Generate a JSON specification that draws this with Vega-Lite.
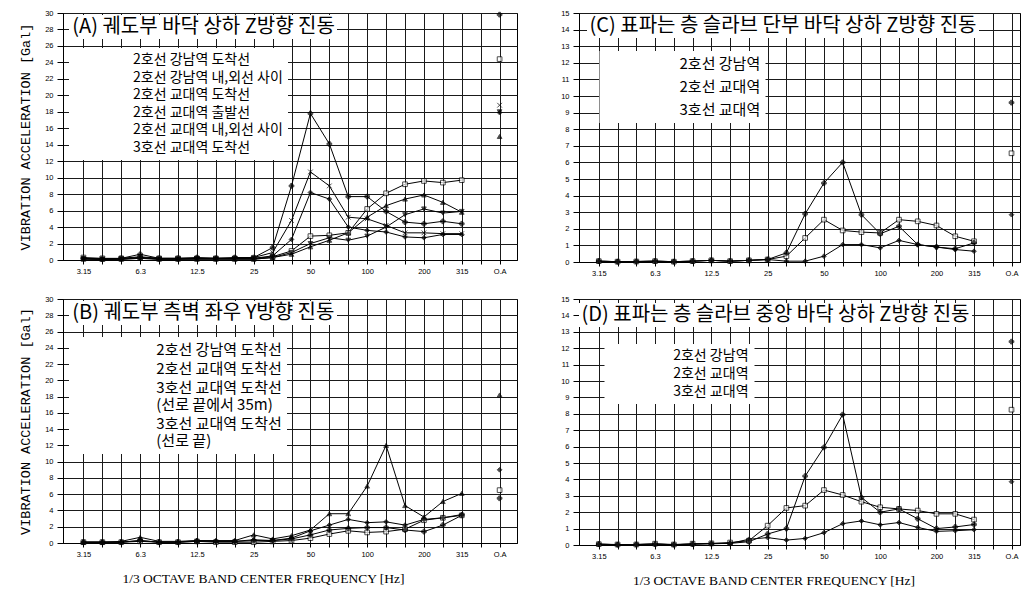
{
  "$schema": "https://vega.github.io/schema/vega-lite/v6.json",
  "padding": {"left": 17, "top": 8, "right": 0, "bottom": 0},
  "background": "white",
  "bounds": "flush",
  "columns": 2,
  "spacing": {"row": 37, "column": 62},
  "resolve": {"scale": {"shape": "independent", "fill": "independent", "color": "independent", "x": "independent", "y": "independent"}, "legend": {"shape": "independent", "fill": "independent", "color": "independent"}},
  "datasets": {
    "A": [
      {"series":"2호선 강남역 도착선","band":"3.15","value":0.3},{"series":"2호선 강남역 도착선","band":"4","value":0.2},{"series":"2호선 강남역 도착선","band":"5","value":0.2},{"series":"2호선 강남역 도착선","band":"6.3","value":0.3},{"series":"2호선 강남역 도착선","band":"8","value":0.2},{"series":"2호선 강남역 도착선","band":"10","value":0.2},{"series":"2호선 강남역 도착선","band":"12.5","value":0.2},{"series":"2호선 강남역 도착선","band":"16","value":0.2},{"series":"2호선 강남역 도착선","band":"20","value":0.2},{"series":"2호선 강남역 도착선","band":"25","value":0.2},{"series":"2호선 강남역 도착선","band":"31.5","value":0.4},{"series":"2호선 강남역 도착선","band":"40","value":1.1},{"series":"2호선 강남역 도착선","band":"50","value":2.9},{"series":"2호선 강남역 도착선","band":"63","value":3.0},{"series":"2호선 강남역 도착선","band":"80","value":3.3},{"series":"2호선 강남역 도착선","band":"100","value":6.2},{"series":"2호선 강남역 도착선","band":"125","value":8.1},{"series":"2호선 강남역 도착선","band":"160","value":9.2},{"series":"2호선 강남역 도착선","band":"200","value":9.6},{"series":"2호선 강남역 도착선","band":"250","value":9.4},{"series":"2호선 강남역 도착선","band":"315","value":9.7},{"series":"2호선 강남역 도착선","band":"O.A","value":24.4},
      {"series":"2호선 강남역 내,외선 사이","band":"3.15","value":0.2},{"series":"2호선 강남역 내,외선 사이","band":"4","value":0.1},{"series":"2호선 강남역 내,외선 사이","band":"5","value":0.2},{"series":"2호선 강남역 내,외선 사이","band":"6.3","value":0.7},{"series":"2호선 강남역 내,외선 사이","band":"8","value":0.2},{"series":"2호선 강남역 내,외선 사이","band":"10","value":0.2},{"series":"2호선 강남역 내,외선 사이","band":"12.5","value":0.3},{"series":"2호선 강남역 내,외선 사이","band":"16","value":0.2},{"series":"2호선 강남역 내,외선 사이","band":"20","value":0.3},{"series":"2호선 강남역 내,외선 사이","band":"25","value":0.3},{"series":"2호선 강남역 내,외선 사이","band":"31.5","value":1.5},{"series":"2호선 강남역 내,외선 사이","band":"40","value":9.0},{"series":"2호선 강남역 내,외선 사이","band":"50","value":17.8},{"series":"2호선 강남역 내,외선 사이","band":"63","value":14.1},{"series":"2호선 강남역 내,외선 사이","band":"80","value":7.7},{"series":"2호선 강남역 내,외선 사이","band":"100","value":7.7},{"series":"2호선 강남역 내,외선 사이","band":"125","value":5.9},{"series":"2호선 강남역 내,외선 사이","band":"160","value":4.6},{"series":"2호선 강남역 내,외선 사이","band":"200","value":4.4},{"series":"2호선 강남역 내,외선 사이","band":"250","value":4.7},{"series":"2호선 강남역 내,외선 사이","band":"315","value":4.4},{"series":"2호선 강남역 내,외선 사이","band":"O.A","value":29.8},
      {"series":"2호선 교대역 도착선","band":"3.15","value":0.2},{"series":"2호선 교대역 도착선","band":"4","value":0.1},{"series":"2호선 교대역 도착선","band":"5","value":0.1},{"series":"2호선 교대역 도착선","band":"6.3","value":0.3},{"series":"2호선 교대역 도착선","band":"8","value":0.1},{"series":"2호선 교대역 도착선","band":"10","value":0.1},{"series":"2호선 교대역 도착선","band":"12.5","value":0.2},{"series":"2호선 교대역 도착선","band":"16","value":0.2},{"series":"2호선 교대역 도착선","band":"20","value":0.2},{"series":"2호선 교대역 도착선","band":"25","value":0.2},{"series":"2호선 교대역 도착선","band":"31.5","value":0.5},{"series":"2호선 교대역 도착선","band":"40","value":2.5},{"series":"2호선 교대역 도착선","band":"50","value":8.2},{"series":"2호선 교대역 도착선","band":"63","value":7.4},{"series":"2호선 교대역 도착선","band":"80","value":4.0},{"series":"2호선 교대역 도착선","band":"100","value":3.6},{"series":"2호선 교대역 도착선","band":"125","value":3.4},{"series":"2호선 교대역 도착선","band":"160","value":2.8},{"series":"2호선 교대역 도착선","band":"200","value":2.7},{"series":"2호선 교대역 도착선","band":"250","value":3.1},{"series":"2호선 교대역 도착선","band":"315","value":3.1},{"series":"2호선 교대역 도착선","band":"O.A","value":17.9},
      {"series":"2호선 교대역 출발선","band":"3.15","value":0.1},{"series":"2호선 교대역 출발선","band":"4","value":0.1},{"series":"2호선 교대역 출발선","band":"5","value":0.1},{"series":"2호선 교대역 출발선","band":"6.3","value":0.2},{"series":"2호선 교대역 출발선","band":"8","value":0.1},{"series":"2호선 교대역 출발선","band":"10","value":0.1},{"series":"2호선 교대역 출발선","band":"12.5","value":0.1},{"series":"2호선 교대역 출발선","band":"16","value":0.1},{"series":"2호선 교대역 출발선","band":"20","value":0.1},{"series":"2호선 교대역 출발선","band":"25","value":0.1},{"series":"2호선 교대역 출발선","band":"31.5","value":0.3},{"series":"2호선 교대역 출발선","band":"40","value":0.7},{"series":"2호선 교대역 출발선","band":"50","value":1.6},{"series":"2호선 교대역 출발선","band":"63","value":2.4},{"series":"2호선 교대역 출발선","band":"80","value":3.3},{"series":"2호선 교대역 출발선","band":"100","value":5.2},{"series":"2호선 교대역 출발선","band":"125","value":6.6},{"series":"2호선 교대역 출발선","band":"160","value":7.4},{"series":"2호선 교대역 출발선","band":"200","value":7.9},{"series":"2호선 교대역 출발선","band":"250","value":7.0},{"series":"2호선 교대역 출발선","band":"315","value":5.8},{"series":"2호선 교대역 출발선","band":"O.A","value":15.0},
      {"series":"2호선 교대역 내,외선 사이","band":"3.15","value":0.2},{"series":"2호선 교대역 내,외선 사이","band":"4","value":0.1},{"series":"2호선 교대역 내,외선 사이","band":"5","value":0.2},{"series":"2호선 교대역 내,외선 사이","band":"6.3","value":0.4},{"series":"2호선 교대역 내,외선 사이","band":"8","value":0.2},{"series":"2호선 교대역 내,외선 사이","band":"10","value":0.2},{"series":"2호선 교대역 내,외선 사이","band":"12.5","value":0.2},{"series":"2호선 교대역 내,외선 사이","band":"16","value":0.2},{"series":"2호선 교대역 내,외선 사이","band":"20","value":0.2},{"series":"2호선 교대역 내,외선 사이","band":"25","value":0.3},{"series":"2호선 교대역 내,외선 사이","band":"31.5","value":0.9},{"series":"2호선 교대역 내,외선 사이","band":"40","value":4.8},{"series":"2호선 교대역 내,외선 사이","band":"50","value":10.7},{"series":"2호선 교대역 내,외선 사이","band":"63","value":9.0},{"series":"2호선 교대역 내,외선 사이","band":"80","value":5.2},{"series":"2호선 교대역 내,외선 사이","band":"100","value":5.0},{"series":"2호선 교대역 내,외선 사이","band":"125","value":4.2},{"series":"2호선 교대역 내,외선 사이","band":"160","value":3.3},{"series":"2호선 교대역 내,외선 사이","band":"200","value":3.3},{"series":"2호선 교대역 내,외선 사이","band":"250","value":3.2},{"series":"2호선 교대역 내,외선 사이","band":"315","value":3.2},{"series":"2호선 교대역 내,외선 사이","band":"O.A","value":18.8},
      {"series":"3호선 교대역 도착선","band":"3.15","value":0.1},{"series":"3호선 교대역 도착선","band":"4","value":0.1},{"series":"3호선 교대역 도착선","band":"5","value":0.1},{"series":"3호선 교대역 도착선","band":"6.3","value":0.2},{"series":"3호선 교대역 도착선","band":"8","value":0.1},{"series":"3호선 교대역 도착선","band":"10","value":0.1},{"series":"3호선 교대역 도착선","band":"12.5","value":0.1},{"series":"3호선 교대역 도착선","band":"16","value":0.1},{"series":"3호선 교대역 도착선","band":"20","value":0.1},{"series":"3호선 교대역 도착선","band":"25","value":0.1},{"series":"3호선 교대역 도착선","band":"31.5","value":0.3},{"series":"3호선 교대역 도착선","band":"40","value":0.9},{"series":"3호선 교대역 도착선","band":"50","value":2.0},{"series":"3호선 교대역 도착선","band":"63","value":2.7},{"series":"3호선 교대역 도착선","band":"80","value":2.4},{"series":"3호선 교대역 도착선","band":"100","value":2.9},{"series":"3호선 교대역 도착선","band":"125","value":4.0},{"series":"3호선 교대역 도착선","band":"160","value":5.5},{"series":"3호선 교대역 도착선","band":"200","value":6.2},{"series":"3호선 교대역 도착선","band":"250","value":5.7},{"series":"3호선 교대역 도착선","band":"315","value":5.9},{"series":"3호선 교대역 도착선","band":"O.A","value":18.0}
    ],
    "B": [
      {"series":"2호선 강남역 도착선","band":"3.15","value":0.1},{"series":"2호선 강남역 도착선","band":"4","value":0.1},{"series":"2호선 강남역 도착선","band":"5","value":0.1},{"series":"2호선 강남역 도착선","band":"6.3","value":0.2},{"series":"2호선 강남역 도착선","band":"8","value":0.1},{"series":"2호선 강남역 도착선","band":"10","value":0.1},{"series":"2호선 강남역 도착선","band":"12.5","value":0.2},{"series":"2호선 강남역 도착선","band":"16","value":0.1},{"series":"2호선 강남역 도착선","band":"20","value":0.1},{"series":"2호선 강남역 도착선","band":"25","value":0.1},{"series":"2호선 강남역 도착선","band":"31.5","value":0.2},{"series":"2호선 강남역 도착선","band":"40","value":0.3},{"series":"2호선 강남역 도착선","band":"50","value":0.6},{"series":"2호선 강남역 도착선","band":"63","value":1.1},{"series":"2호선 강남역 도착선","band":"80","value":1.5},{"series":"2호선 강남역 도착선","band":"100","value":1.3},{"series":"2호선 강남역 도착선","band":"125","value":1.4},{"series":"2호선 강남역 도착선","band":"160","value":1.7},{"series":"2호선 강남역 도착선","band":"200","value":2.8},{"series":"2호선 강남역 도착선","band":"250","value":3.1},{"series":"2호선 강남역 도착선","band":"315","value":3.4},{"series":"2호선 강남역 도착선","band":"O.A","value":6.5},
      {"series":"2호선 교대역 도착선","band":"3.15","value":0.1},{"series":"2호선 교대역 도착선","band":"4","value":0.1},{"series":"2호선 교대역 도착선","band":"5","value":0.1},{"series":"2호선 교대역 도착선","band":"6.3","value":0.3},{"series":"2호선 교대역 도착선","band":"8","value":0.1},{"series":"2호선 교대역 도착선","band":"10","value":0.1},{"series":"2호선 교대역 도착선","band":"12.5","value":0.2},{"series":"2호선 교대역 도착선","band":"16","value":0.2},{"series":"2호선 교대역 도착선","band":"20","value":0.2},{"series":"2호선 교대역 도착선","band":"25","value":0.3},{"series":"2호선 교대역 도착선","band":"31.5","value":0.3},{"series":"2호선 교대역 도착선","band":"40","value":0.5},{"series":"2호선 교대역 도착선","band":"50","value":1.0},{"series":"2호선 교대역 도착선","band":"63","value":1.6},{"series":"2호선 교대역 도착선","band":"80","value":1.8},{"series":"2호선 교대역 도착선","band":"100","value":1.9},{"series":"2호선 교대역 도착선","band":"125","value":1.9},{"series":"2호선 교대역 도착선","band":"160","value":1.6},{"series":"2호선 교대역 도착선","band":"200","value":1.4},{"series":"2호선 교대역 도착선","band":"250","value":2.2},{"series":"2호선 교대역 도착선","band":"315","value":3.4},{"series":"2호선 교대역 도착선","band":"O.A","value":5.5},
      {"series":"3호선 교대역 도착선 (선로 끝에서 35m)","band":"3.15","value":0.1},{"series":"3호선 교대역 도착선 (선로 끝에서 35m)","band":"4","value":0.1},{"series":"3호선 교대역 도착선 (선로 끝에서 35m)","band":"5","value":0.1},{"series":"3호선 교대역 도착선 (선로 끝에서 35m)","band":"6.3","value":0.3},{"series":"3호선 교대역 도착선 (선로 끝에서 35m)","band":"8","value":0.1},{"series":"3호선 교대역 도착선 (선로 끝에서 35m)","band":"10","value":0.1},{"series":"3호선 교대역 도착선 (선로 끝에서 35m)","band":"12.5","value":0.3},{"series":"3호선 교대역 도착선 (선로 끝에서 35m)","band":"16","value":0.2},{"series":"3호선 교대역 도착선 (선로 끝에서 35m)","band":"20","value":0.2},{"series":"3호선 교대역 도착선 (선로 끝에서 35m)","band":"25","value":0.4},{"series":"3호선 교대역 도착선 (선로 끝에서 35m)","band":"31.5","value":0.3},{"series":"3호선 교대역 도착선 (선로 끝에서 35m)","band":"40","value":0.6},{"series":"3호선 교대역 도착선 (선로 끝에서 35m)","band":"50","value":1.5},{"series":"3호선 교대역 도착선 (선로 끝에서 35m)","band":"63","value":2.2},{"series":"3호선 교대역 도착선 (선로 끝에서 35m)","band":"80","value":2.9},{"series":"3호선 교대역 도착선 (선로 끝에서 35m)","band":"100","value":2.5},{"series":"3호선 교대역 도착선 (선로 끝에서 35m)","band":"125","value":2.6},{"series":"3호선 교대역 도착선 (선로 끝에서 35m)","band":"160","value":2.2},{"series":"3호선 교대역 도착선 (선로 끝에서 35m)","band":"200","value":2.9},{"series":"3호선 교대역 도착선 (선로 끝에서 35m)","band":"250","value":3.1},{"series":"3호선 교대역 도착선 (선로 끝에서 35m)","band":"315","value":3.5},{"series":"3호선 교대역 도착선 (선로 끝에서 35m)","band":"O.A","value":9.0},
      {"series":"3호선 교대역 도착선 (선로 끝)","band":"3.15","value":0.1},{"series":"3호선 교대역 도착선 (선로 끝)","band":"4","value":0.1},{"series":"3호선 교대역 도착선 (선로 끝)","band":"5","value":0.2},{"series":"3호선 교대역 도착선 (선로 끝)","band":"6.3","value":0.7},{"series":"3호선 교대역 도착선 (선로 끝)","band":"8","value":0.2},{"series":"3호선 교대역 도착선 (선로 끝)","band":"10","value":0.2},{"series":"3호선 교대역 도착선 (선로 끝)","band":"12.5","value":0.3},{"series":"3호선 교대역 도착선 (선로 끝)","band":"16","value":0.3},{"series":"3호선 교대역 도착선 (선로 끝)","band":"20","value":0.3},{"series":"3호선 교대역 도착선 (선로 끝)","band":"25","value":1.0},{"series":"3호선 교대역 도착선 (선로 끝)","band":"31.5","value":0.5},{"series":"3호선 교대역 도착선 (선로 끝)","band":"40","value":0.9},{"series":"3호선 교대역 도착선 (선로 끝)","band":"50","value":1.6},{"series":"3호선 교대역 도착선 (선로 끝)","band":"63","value":3.6},{"series":"3호선 교대역 도착선 (선로 끝)","band":"80","value":3.6},{"series":"3호선 교대역 도착선 (선로 끝)","band":"100","value":7.0},{"series":"3호선 교대역 도착선 (선로 끝)","band":"125","value":12.0},{"series":"3호선 교대역 도착선 (선로 끝)","band":"160","value":4.6},{"series":"3호선 교대역 도착선 (선로 끝)","band":"200","value":3.2},{"series":"3호선 교대역 도착선 (선로 끝)","band":"250","value":5.1},{"series":"3호선 교대역 도착선 (선로 끝)","band":"315","value":6.1},{"series":"3호선 교대역 도착선 (선로 끝)","band":"O.A","value":18.2}
    ],
    "C": [
      {"series":"2호선 강남역","band":"3.15","value":0.05},{"series":"2호선 강남역","band":"4","value":0.02},{"series":"2호선 강남역","band":"5","value":0.03},{"series":"2호선 강남역","band":"6.3","value":0.05},{"series":"2호선 강남역","band":"8","value":0.02},{"series":"2호선 강남역","band":"10","value":0.05},{"series":"2호선 강남역","band":"12.5","value":0.1},{"series":"2호선 강남역","band":"16","value":0.05},{"series":"2호선 강남역","band":"20","value":0.1},{"series":"2호선 강남역","band":"25","value":0.15},{"series":"2호선 강남역","band":"31.5","value":0.35},{"series":"2호선 강남역","band":"40","value":1.45},{"series":"2호선 강남역","band":"50","value":2.55},{"series":"2호선 강남역","band":"63","value":1.9},{"series":"2호선 강남역","band":"80","value":1.8},{"series":"2호선 강남역","band":"100","value":1.75},{"series":"2호선 강남역","band":"125","value":2.55},{"series":"2호선 강남역","band":"160","value":2.45},{"series":"2호선 강남역","band":"200","value":2.2},{"series":"2호선 강남역","band":"250","value":1.55},{"series":"2호선 강남역","band":"315","value":1.25},{"series":"2호선 강남역","band":"O.A","value":6.55},
      {"series":"2호선 교대역","band":"3.15","value":0.05},{"series":"2호선 교대역","band":"4","value":0.02},{"series":"2호선 교대역","band":"5","value":0.03},{"series":"2호선 교대역","band":"6.3","value":0.05},{"series":"2호선 교대역","band":"8","value":0.02},{"series":"2호선 교대역","band":"10","value":0.05},{"series":"2호선 교대역","band":"12.5","value":0.1},{"series":"2호선 교대역","band":"16","value":0.05},{"series":"2호선 교대역","band":"20","value":0.1},{"series":"2호선 교대역","band":"25","value":0.15},{"series":"2호선 교대역","band":"31.5","value":0.55},{"series":"2호선 교대역","band":"40","value":2.9},{"series":"2호선 교대역","band":"50","value":4.75},{"series":"2호선 교대역","band":"63","value":6.0},{"series":"2호선 교대역","band":"80","value":2.85},{"series":"2호선 교대역","band":"100","value":1.7},{"series":"2호선 교대역","band":"125","value":2.15},{"series":"2호선 교대역","band":"160","value":1.05},{"series":"2호선 교대역","band":"200","value":0.9},{"series":"2호선 교대역","band":"250","value":0.8},{"series":"2호선 교대역","band":"315","value":1.15},{"series":"2호선 교대역","band":"O.A","value":9.6},
      {"series":"3호선 교대역","band":"3.15","value":0.05},{"series":"3호선 교대역","band":"4","value":0.02},{"series":"3호선 교대역","band":"5","value":0.03},{"series":"3호선 교대역","band":"6.3","value":0.05},{"series":"3호선 교대역","band":"8","value":0.02},{"series":"3호선 교대역","band":"10","value":0.05},{"series":"3호선 교대역","band":"12.5","value":0.1},{"series":"3호선 교대역","band":"16","value":0.05},{"series":"3호선 교대역","band":"20","value":0.1},{"series":"3호선 교대역","band":"25","value":0.15},{"series":"3호선 교대역","band":"31.5","value":0.05},{"series":"3호선 교대역","band":"40","value":0.05},{"series":"3호선 교대역","band":"50","value":0.35},{"series":"3호선 교대역","band":"63","value":1.05},{"series":"3호선 교대역","band":"80","value":1.05},{"series":"3호선 교대역","band":"100","value":0.85},{"series":"3호선 교대역","band":"125","value":1.3},{"series":"3호선 교대역","band":"160","value":1.05},{"series":"3호선 교대역","band":"200","value":0.9},{"series":"3호선 교대역","band":"250","value":0.75},{"series":"3호선 교대역","band":"315","value":0.65},{"series":"3호선 교대역","band":"O.A","value":2.85}
    ],
    "D": [
      {"series":"2호선 강남역","band":"3.15","value":0.05},{"series":"2호선 강남역","band":"4","value":0.03},{"series":"2호선 강남역","band":"5","value":0.03},{"series":"2호선 강남역","band":"6.3","value":0.08},{"series":"2호선 강남역","band":"8","value":0.03},{"series":"2호선 강남역","band":"10","value":0.08},{"series":"2호선 강남역","band":"12.5","value":0.1},{"series":"2호선 강남역","band":"16","value":0.15},{"series":"2호선 강남역","band":"20","value":0.26},{"series":"2호선 강남역","band":"25","value":1.18},{"series":"2호선 강남역","band":"31.5","value":2.26},{"series":"2호선 강남역","band":"40","value":2.4},{"series":"2호선 강남역","band":"50","value":3.35},{"series":"2호선 강남역","band":"63","value":3.05},{"series":"2호선 강남역","band":"80","value":2.64},{"series":"2호선 강남역","band":"100","value":2.3},{"series":"2호선 강남역","band":"125","value":2.2},{"series":"2호선 강남역","band":"160","value":2.1},{"series":"2호선 강남역","band":"200","value":1.9},{"series":"2호선 강남역","band":"250","value":1.9},{"series":"2호선 강남역","band":"315","value":1.55},{"series":"2호선 강남역","band":"O.A","value":8.25},
      {"series":"2호선 교대역","band":"3.15","value":0.05},{"series":"2호선 교대역","band":"4","value":0.02},{"series":"2호선 교대역","band":"5","value":0.03},{"series":"2호선 교대역","band":"6.3","value":0.05},{"series":"2호선 교대역","band":"8","value":0.02},{"series":"2호선 교대역","band":"10","value":0.05},{"series":"2호선 교대역","band":"12.5","value":0.08},{"series":"2호선 교대역","band":"16","value":0.1},{"series":"2호선 교대역","band":"20","value":0.2},{"series":"2호선 교대역","band":"25","value":0.67},{"series":"2호선 교대역","band":"31.5","value":1.0},{"series":"2호선 교대역","band":"40","value":4.2},{"series":"2호선 교대역","band":"50","value":5.95},{"series":"2호선 교대역","band":"63","value":7.95},{"series":"2호선 교대역","band":"80","value":2.9},{"series":"2호선 교대역","band":"100","value":2.0},{"series":"2호선 교대역","band":"125","value":2.2},{"series":"2호선 교대역","band":"160","value":1.6},{"series":"2호선 교대역","band":"200","value":1.0},{"series":"2호선 교대역","band":"250","value":1.1},{"series":"2호선 교대역","band":"315","value":1.25},{"series":"2호선 교대역","band":"O.A","value":12.4},
      {"series":"3호선 교대역","band":"3.15","value":0.05},{"series":"3호선 교대역","band":"4","value":0.02},{"series":"3호선 교대역","band":"5","value":0.03},{"series":"3호선 교대역","band":"6.3","value":0.05},{"series":"3호선 교대역","band":"8","value":0.02},{"series":"3호선 교대역","band":"10","value":0.05},{"series":"3호선 교대역","band":"12.5","value":0.08},{"series":"3호선 교대역","band":"16","value":0.1},{"series":"3호선 교대역","band":"20","value":0.35},{"series":"3호선 교대역","band":"25","value":0.45},{"series":"3호선 교대역","band":"31.5","value":0.3},{"series":"3호선 교대역","band":"40","value":0.4},{"series":"3호선 교대역","band":"50","value":0.75},{"series":"3호선 교대역","band":"63","value":1.3},{"series":"3호선 교대역","band":"80","value":1.47},{"series":"3호선 교대역","band":"100","value":1.23},{"series":"3호선 교대역","band":"125","value":1.37},{"series":"3호선 교대역","band":"160","value":1.07},{"series":"3호선 교대역","band":"200","value":0.83},{"series":"3호선 교대역","band":"250","value":0.87},{"series":"3호선 교대역","band":"315","value":0.93},{"series":"3호선 교대역","band":"O.A","value":3.86}
    ]
  },
  "concat": [
    {
      "width": 454, "height": 247,
      "data": {"name": "A"},
      "resolve": {"scale": {"shape": "independent"}, "legend": {"shape": "independent"}},
      "encoding": {
        "x": {"field": "band", "type": "ordinal",
          "scale": {"type": "point", "domain": ["3.15","4","5","6.3","8","10","12.5","16","20","25","31.5","40","50","63","80","100","125","160","200","250","315"," ","O.A"], "padding": 1.024, "align": 0.54},
          "axis": {"title": null, "labelAngle": 0, "labelExpr": "indexof(['3.15','6.3','12.5','25','50','100','200','315','O.A'], datum.value) >= 0 ? datum.value : ''"}},
        "y": {"field": "value", "type": "quantitative",
          "scale": {"domain": [0, 30], "nice": false},
          "axis": {"values": [0,2,4,6,8,10,12,14,16,18,20,22,24,26,28,30], "title": "VIBRATION ACCELERATION [Gal]", "titleX": -37.7, "titleY": 123.5, "titleAngle": -90, "titleBaseline": "middle", "titleAlign": "center"}}
      },
      "layer": [
        {
          "transform": [{"filter": "datum.band !== 'O.A'"}],
          "mark": {"type": "line", "strokeWidth": 1},
          "encoding": {
            "detail": {"field": "series"},
            "order": {"value": null},
            "color": {"datum": "(A) 궤도부 바닥 상하 Z방향 진동", "scale": {"range": ["black"]},
              "legend": {"orient": "none", "legendX": 6, "legendY": 2, "title": null, "symbolOpacity": 0, "symbolSize": 0, "symbolStrokeWidth": 0, "labelOffset": -18.7, "labelFontSize": 20, "labelLimit": 0, "padding": 2, "fillColor": "white"}}
          }
        },
        {
          "mark": {"type": "point", "filled": true, "stroke": "black", "strokeWidth": 1, "size": 22},
          "encoding": {
            "shape": {"field": "series", "type": "nominal", "legend": null,
              "scale": {"domain": ["3호선 교대역 도착선","2호선 교대역 내,외선 사이","2호선 교대역 출발선","2호선 교대역 도착선","2호선 강남역 내,외선 사이","2호선 강남역 도착선"], "range": ["triangle-down","M-1,-1L1,1M-1,1L1,-1","triangle-up","diamond","cross","square"]}},
            "fill": {"field": "series", "type": "nominal", "legend": null,
              "scale": {"domain": ["3호선 교대역 도착선","2호선 교대역 내,외선 사이","2호선 교대역 출발선","2호선 교대역 도착선","2호선 강남역 내,외선 사이","2호선 강남역 도착선"], "range": ["black","black","black","black","black","white"]}}
          }
        },
        {
          "transform": [{"filter": "datum.band === 'none'"}],
          "mark": {"type": "point", "filled": false, "fill": "white", "stroke": "black", "strokeWidth": 1},
          "encoding": {
            "shape": {"field": "series", "type": "nominal",
              "scale": {"domain": ["2호선 강남역 도착선","2호선 강남역 내,외선 사이","2호선 교대역 도착선","2호선 교대역 출발선","2호선 교대역 내,외선 사이","3호선 교대역 도착선"],
                "range": ["M-4.5,-0.9H-2.7V0.9H-4.5ZM-2.7,0H2.7M2.7,-0.9H4.5V0.9H2.7Z","M-3.9,0H-3.3M-3.6,-0.3V0.3M-2,0H2M3.3,0H3.9M3.6,-0.3V0.3","M-4.5,0L-3.6,-0.9L-2.7,0L-3.6,0.9ZM-2.7,0H2.7M2.7,0L3.6,-0.9L4.5,0L3.6,0.9Z","M-4.5,0.8L-3.6,-0.8L-2.7,0.8M-2.7,0H2.7M2.7,0.8L3.6,-0.8L4.5,0.8","M-4.4,-0.8L-2.8,0.8M-4.4,0.8L-2.8,-0.8M-2.6,0H2.6M2.8,-0.8L4.4,0.8M2.8,0.8L4.4,-0.8","M-4.5,-0.8L-3.6,0.8L-2.7,-0.8ZM-2.7,0H2.7M2.7,-0.8L3.6,0.8L4.5,-0.8Z"]},
              "legend": {"orient": "none", "legendX": 6, "legendY": 35, "title": null, "padding": 5, "fillColor": "white", "labelFontSize": 14, "rowPadding": 3.6, "symbolSize": 100, "symbolStrokeWidth": 1, "symbolOpacity": 1, "symbolFillColor": "white", "symbolStrokeColor": "black", "symbolOffset": 17.8, "labelOffset": 27.2, "labelLimit": 0}}
          }
        }
      ]
    },
    {
      "width": 441, "height": 249,
      "data": {"name": "C"},
      "resolve": {"scale": {"shape": "independent"}, "legend": {"shape": "independent"}},
      "encoding": {
        "x": {"field": "band", "type": "ordinal",
          "scale": {"type": "point", "domain": ["3.15","4","5","6.3","8","10","12.5","16","20","25","31.5","40","50","63","80","100","125","160","200","250","315"," ","O.A"], "padding": 0.754, "align": 0.7},
          "axis": {"title": null, "labelAngle": 0, "labelExpr": "indexof(['3.15','6.3','12.5','25','50','100','200','315','O.A'], datum.value) >= 0 ? datum.value : ''"}},
        "y": {"field": "value", "type": "quantitative",
          "scale": {"domain": [0, 15], "nice": false},
          "axis": {"values": [0,1,2,3,4,5,6,7,8,9,10,11,12,13,14,15], "title": null}}
      },
      "layer": [
        {
          "transform": [{"filter": "datum.band !== 'O.A'"}],
          "mark": {"type": "line", "strokeWidth": 1},
          "encoding": {
            "detail": {"field": "series"},
            "order": {"value": null},
            "color": {"datum": "(C) 표파는 층 슬라브 단부 바닥 상하 Z방향 진동", "scale": {"range": ["black"]},
              "legend": {"orient": "none", "legendX": 8, "legendY": 1, "title": null, "symbolOpacity": 0, "symbolSize": 0, "symbolStrokeWidth": 0, "labelOffset": -19.5, "labelFontSize": 20, "labelLimit": 0, "padding": 2, "fillColor": "white"}}
          }
        },
        {
          "mark": {"type": "point", "filled": true, "stroke": "black", "strokeWidth": 1, "size": 22},
          "encoding": {
            "shape": {"field": "series", "type": "nominal", "legend": null,
              "scale": {"domain": ["3호선 교대역","2호선 교대역","2호선 강남역"], "range": ["diamond","cross","square"]}},
            "fill": {"field": "series", "type": "nominal", "legend": null,
              "scale": {"domain": ["3호선 교대역","2호선 교대역","2호선 강남역"], "range": ["black","black","white"]}}
          }
        },
        {
          "transform": [{"filter": "datum.band === 'none'"}],
          "mark": {"type": "point", "filled": false, "fill": "white", "stroke": "black", "strokeWidth": 1},
          "encoding": {
            "shape": {"field": "series", "type": "nominal",
              "scale": {"domain": ["2호선 강남역","2호선 교대역","3호선 교대역"],
                "range": ["M-4.5,-0.9H-2.7V0.9H-4.5ZM-2.7,0H2.7M2.7,-0.9H4.5V0.9H2.7Z","M-3.9,0H-3.3M-3.6,-0.3V0.3M-2,0H2M3.3,0H3.9M3.6,-0.3V0.3","M-4.5,0L-3.6,-0.9L-2.7,0L-3.6,0.9ZM-2.7,0H2.7M2.7,0L3.6,-0.9L4.5,0L3.6,0.9Z"]},
              "legend": {"orient": "none", "legendX": 20.5, "legendY": 38, "title": null, "padding": 5, "fillColor": "white", "labelFontSize": 15, "rowPadding": 7, "symbolSize": 133, "symbolStrokeWidth": 1, "symbolOpacity": 1, "symbolFillColor": "white", "symbolStrokeColor": "black", "symbolOffset": 26.8, "labelOffset": 33.2, "labelLimit": 0}}
          }
        }
      ]
    },
    {
      "width": 454, "height": 244,
      "data": {"name": "B"},
      "resolve": {"scale": {"shape": "independent"}, "legend": {"shape": "independent"}},
      "encoding": {
        "x": {"field": "band", "type": "ordinal",
          "scale": {"type": "point", "domain": ["3.15","4","5","6.3","8","10","12.5","16","20","25","31.5","40","50","63","80","100","125","160","200","250","315"," ","O.A"], "padding": 1.024, "align": 0.54},
          "axis": {"title": "1/3 OCTAVE BAND CENTER FREQUENCY [Hz]", "titleX": 200, "titleY": 35, "titleBaseline": "middle", "labelAngle": 0, "labelExpr": "indexof(['3.15','6.3','12.5','25','50','100','200','315','O.A'], datum.value) >= 0 ? datum.value : ''"}},
        "y": {"field": "value", "type": "quantitative",
          "scale": {"domain": [0, 30], "nice": false},
          "axis": {"values": [0,2,4,6,8,10,12,14,16,18,20,22,24,26,28,30], "title": "VIBRATION ACCELERATION [Gal]", "titleX": -37.7, "titleY": 122, "titleAngle": -90, "titleBaseline": "middle", "titleAlign": "center"}}
      },
      "layer": [
        {
          "transform": [{"filter": "datum.band !== 'O.A'"}],
          "mark": {"type": "line", "strokeWidth": 1},
          "encoding": {
            "detail": {"field": "series"},
            "order": {"value": null},
            "color": {"datum": "(B) 궤도부 측벽 좌우 Y방향 진동", "scale": {"range": ["black"]},
              "legend": {"orient": "none", "legendX": 6, "legendY": 2, "title": null, "symbolOpacity": 0, "symbolSize": 0, "symbolStrokeWidth": 0, "labelOffset": -18.7, "labelFontSize": 20, "labelLimit": 0, "padding": 2, "fillColor": "white"}}
          }
        },
        {
          "mark": {"type": "point", "filled": true, "stroke": "black", "strokeWidth": 1, "size": 22},
          "encoding": {
            "shape": {"field": "series", "type": "nominal", "legend": null,
              "scale": {"domain": ["3호선 교대역 도착선 (선로 끝)","3호선 교대역 도착선 (선로 끝에서 35m)","2호선 교대역 도착선","2호선 강남역 도착선"], "range": ["triangle-up","diamond","cross","square"]}},
            "fill": {"field": "series", "type": "nominal", "legend": null,
              "scale": {"domain": ["3호선 교대역 도착선 (선로 끝)","3호선 교대역 도착선 (선로 끝에서 35m)","2호선 교대역 도착선","2호선 강남역 도착선"], "range": ["black","black","black","white"]}}
          }
        },
        {
          "transform": [{"filter": "datum.band === 'none'"}],
          "mark": {"type": "point", "filled": false, "fill": "white", "stroke": "black", "strokeWidth": 1},
          "encoding": {
            "shape": {"field": "series", "type": "nominal",
              "scale": {"domain": ["2호선 강남역 도착선","2호선 교대역 도착선","3호선 교대역 도착선 (선로 끝에서 35m)","3호선 교대역 도착선 (선로 끝)"],
                "range": ["M-4.5,-0.9H-2.7V0.9H-4.5ZM-2.7,0H2.7M2.7,-0.9H4.5V0.9H2.7Z","M-3.9,0H-3.3M-3.6,-0.3V0.3M-2,0H2M3.3,0H3.9M3.6,-0.3V0.3","M-4.5,0L-3.6,-0.9L-2.7,0L-3.6,0.9ZM-2.7,0H2.7M2.7,0L3.6,-0.9L4.5,0L3.6,0.9Z","M-4.5,0.8L-3.6,-0.8L-2.7,0.8ZM-2.7,0H2.7M2.7,0.8L3.6,-0.8L4.5,0.8Z"]},
              "legend": {"orient": "none", "legendX": 6, "legendY": 38, "title": null, "padding": 5, "fillColor": "white", "labelFontSize": 15, "rowPadding": 3, "symbolSize": 133, "symbolStrokeWidth": 1, "symbolOpacity": 1, "symbolFillColor": "white", "symbolStrokeColor": "black", "symbolOffset": 32.3, "labelOffset": 35, "labelLimit": 0,
                "labelExpr": "split(replace(datum.label, ' (', '|('), '|')"}}
          }
        }
      ]
    },
    {
      "width": 441, "height": 246,
      "data": {"name": "D"},
      "resolve": {"scale": {"shape": "independent"}, "legend": {"shape": "independent"}},
      "encoding": {
        "x": {"field": "band", "type": "ordinal",
          "scale": {"type": "point", "domain": ["3.15","4","5","6.3","8","10","12.5","16","20","25","31.5","40","50","63","80","100","125","160","200","250","315"," ","O.A"], "padding": 0.754, "align": 0.7},
          "axis": {"title": "1/3 OCTAVE BAND CENTER FREQUENCY [Hz]", "titleX": 194.5, "titleY": 35, "titleBaseline": "middle", "labelAngle": 0, "labelExpr": "indexof(['3.15','6.3','12.5','25','50','100','200','315','O.A'], datum.value) >= 0 ? datum.value : ''"}},
        "y": {"field": "value", "type": "quantitative",
          "scale": {"domain": [0, 15], "nice": false},
          "axis": {"values": [0,1,2,3,4,5,6,7,8,9,10,11,12,13,14,15], "title": null}}
      },
      "layer": [
        {
          "transform": [{"filter": "datum.band !== 'O.A'"}],
          "mark": {"type": "line", "strokeWidth": 1},
          "encoding": {
            "detail": {"field": "series"},
            "order": {"value": null},
            "color": {"datum": "(D) 표파는 층 슬라브 중앙 바닥 상하 Z방향 진동", "scale": {"range": ["black"]},
              "legend": {"orient": "none", "legendX": 0, "legendY": 4, "title": null, "symbolOpacity": 0, "symbolSize": 0, "symbolStrokeWidth": 0, "labelOffset": -19.5, "labelFontSize": 20, "labelLimit": 0, "padding": 2, "fillColor": "white"}}
          }
        },
        {
          "mark": {"type": "point", "filled": true, "stroke": "black", "strokeWidth": 1, "size": 22},
          "encoding": {
            "shape": {"field": "series", "type": "nominal", "legend": null,
              "scale": {"domain": ["3호선 교대역","2호선 교대역","2호선 강남역"], "range": ["diamond","cross","square"]}},
            "fill": {"field": "series", "type": "nominal", "legend": null,
              "scale": {"domain": ["3호선 교대역","2호선 교대역","2호선 강남역"], "range": ["black","black","white"]}}
          }
        },
        {
          "transform": [{"filter": "datum.band === 'none'"}],
          "mark": {"type": "point", "filled": false, "fill": "white", "stroke": "black", "strokeWidth": 1},
          "encoding": {
            "shape": {"field": "series", "type": "nominal",
              "scale": {"domain": ["2호선 강남역","2호선 교대역","3호선 교대역"],
                "range": ["M-4.5,-0.9H-2.7V0.9H-4.5ZM-2.7,0H2.7M2.7,-0.9H4.5V0.9H2.7Z","M-3.9,0H-3.3M-3.6,-0.3V0.3M-2,0H2M3.3,0H3.9M3.6,-0.3V0.3","M-4.5,0L-3.6,-0.9L-2.7,0L-3.6,0.9ZM-2.7,0H2.7M2.7,0L3.6,-0.9L4.5,0L3.6,0.9Z"]},
              "legend": {"orient": "none", "legendX": 25.5, "legendY": 45, "title": null, "padding": 5, "fillColor": "white", "labelFontSize": 14, "rowPadding": 4, "symbolSize": 114, "symbolStrokeWidth": 1, "symbolOpacity": 1, "symbolFillColor": "white", "symbolStrokeColor": "black", "symbolOffset": 14, "labelOffset": 35.7, "labelLimit": 0}}
          }
        }
      ]
    }
  ],
  "config": {
    "view": {"stroke": "black", "strokeWidth": 1},
    "axis": {"grid": true, "gridColor": "#1a1a1a", "gridWidth": 1, "gridOpacity": 1, "domainColor": "black", "tickColor": "black", "tickSize": 6, "labelColor": "black", "labelFont": "Liberation Sans", "labelFontSize": 7.5, "labelPadding": 3, "titleColor": "black", "titleFontWeight": "normal"},
    "axisY": {"titleFont": "Liberation Mono", "titleFontSize": 13.5, "labelPadding": 4},
    "axisX": {"titleFont": "Liberation Serif", "titleFontSize": 13.5, "labelPadding": 3, "tickSize": 4, "labelOverlap": false},
    "legend": {"labelFont": "Noto Sans CJK KR", "labelColor": "black", "strokeColor": null}
  }
}
